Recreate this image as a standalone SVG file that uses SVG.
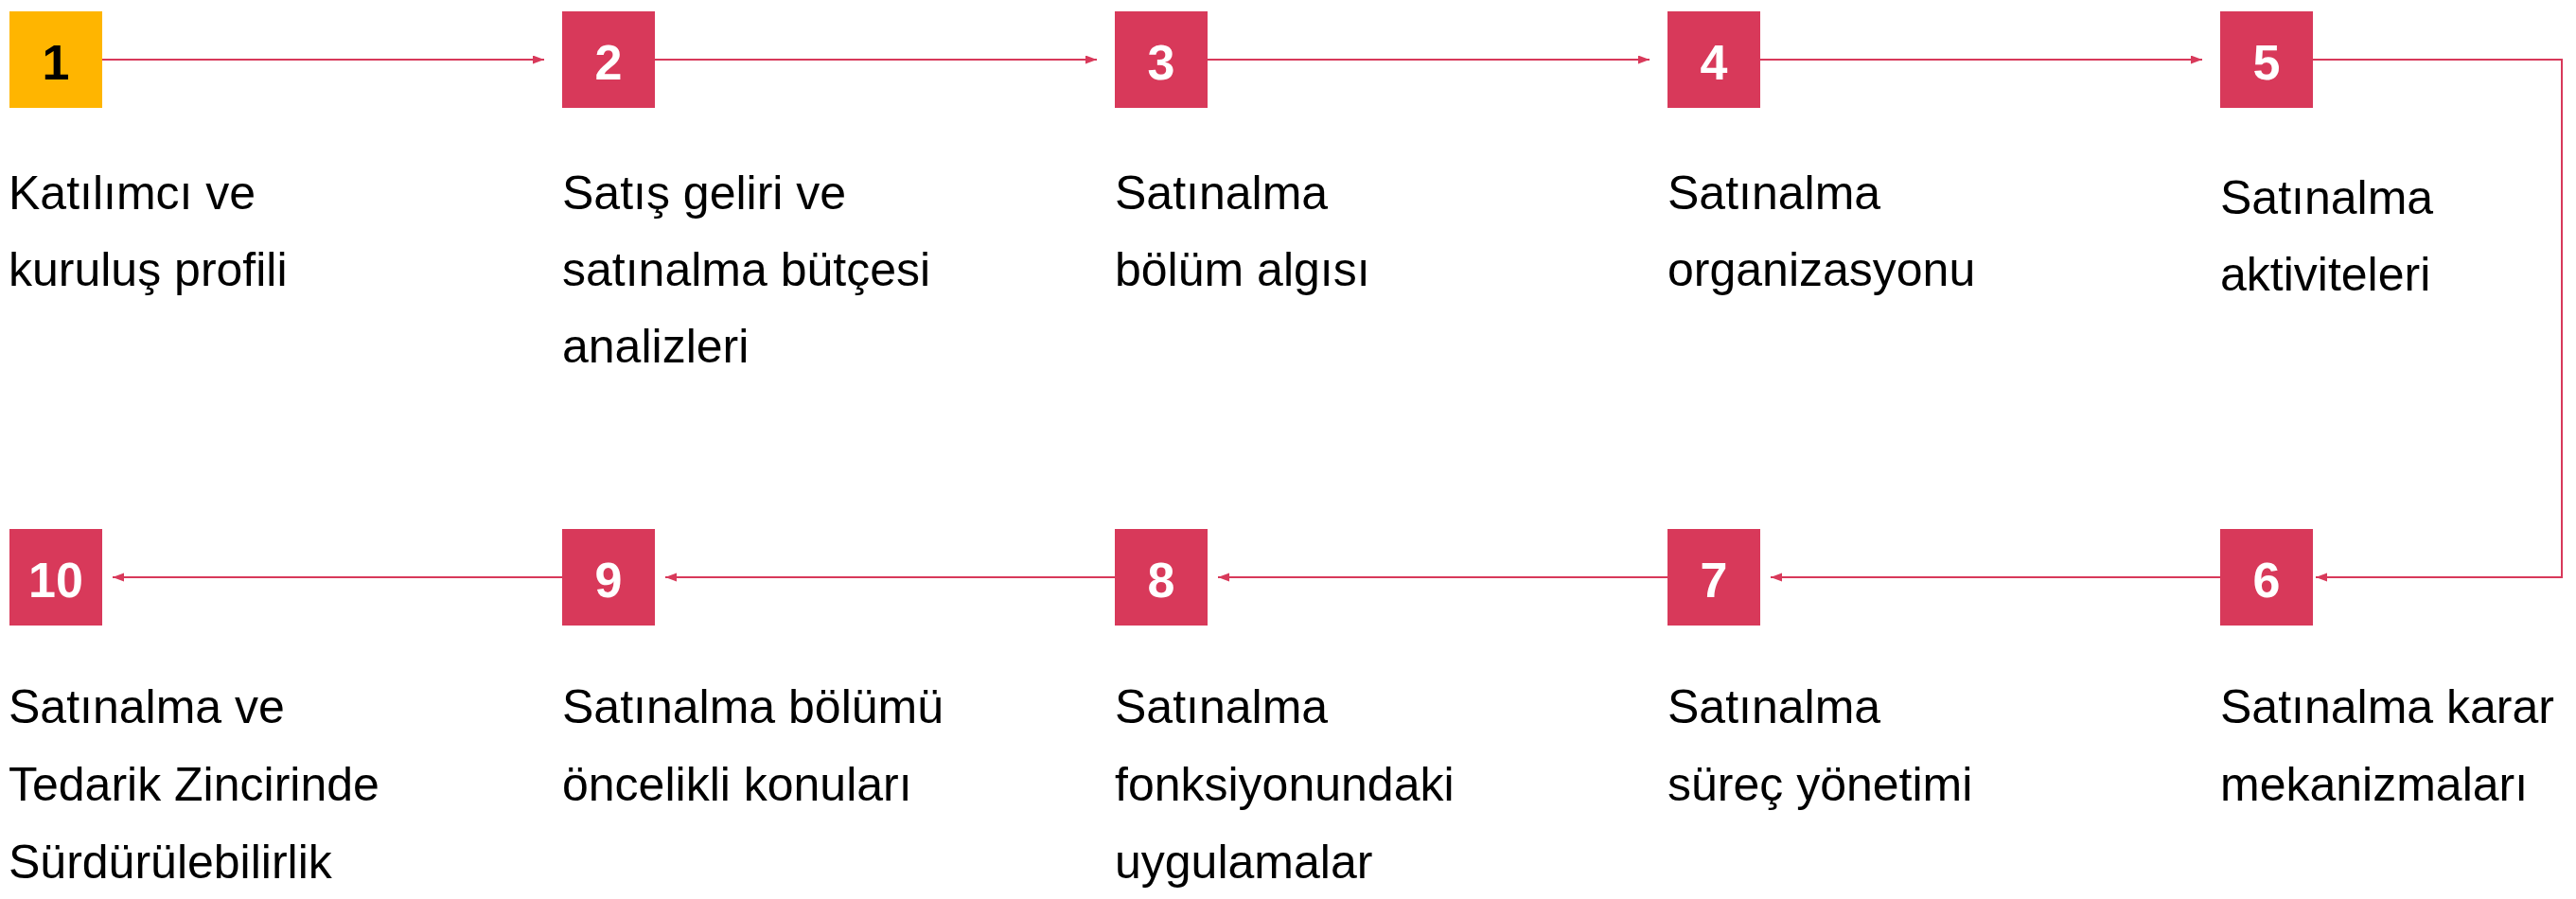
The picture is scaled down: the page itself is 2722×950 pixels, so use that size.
<svg xmlns="http://www.w3.org/2000/svg" width="2722" height="950" viewBox="0 0 2722 950">
<style>
.box{fill:#D8395A}
.box1{fill:#FFB500}
.num{font-family:"Liberation Sans",Arial,sans-serif;font-weight:bold;font-size:52px;fill:#FFFFFF;text-anchor:middle}
.num1{fill:#000000}
.lbl{font-family:"Liberation Sans",Arial,sans-serif;font-size:50px;fill:#000000}
.con{fill:none;stroke:#D8395A;stroke-width:2}
</style>
<defs>
<marker id="ah" markerUnits="userSpaceOnUse" markerWidth="13" markerHeight="10" refX="12" refY="4.5" orient="auto">
<path d="M0,0 L12,4.5 L0,9 z" fill="#D8395A"/>
</marker>
</defs>
<rect width="2722" height="950" fill="#FFFFFF"/>
<g id="connectors">
<path class="con" d="M108,63 H575" marker-end="url(#ah)"/>
<path class="con" d="M692,63 H1159" marker-end="url(#ah)"/>
<path class="con" d="M1276,63 H1743" marker-end="url(#ah)"/>
<path class="con" d="M1860,63 H2327" marker-end="url(#ah)"/>
<path class="con" d="M2444,63 H2707 V610 H2447" marker-end="url(#ah)"/>
<path class="con" d="M2346,610 H1871" marker-end="url(#ah)"/>
<path class="con" d="M1762,610 H1287" marker-end="url(#ah)"/>
<path class="con" d="M1178,610 H703" marker-end="url(#ah)"/>
<path class="con" d="M594,610 H119" marker-end="url(#ah)"/>
</g>
<g id="node1">
<rect class="box1" x="10" y="12" width="98" height="102"/>
<text class="num num1" x="59" y="84">1</text>
<text class="lbl" x="9" y="221">Katılımcı ve</text>
<text class="lbl" x="9" y="302">kuruluş profili</text>
</g>
<g id="node2">
<rect class="box" x="594" y="12" width="98" height="102"/>
<text class="num" x="643" y="84">2</text>
<text class="lbl" x="594" y="221">Satış geliri ve</text>
<text class="lbl" x="594" y="302">satınalma bütçesi</text>
<text class="lbl" x="594" y="383">analizleri</text>
</g>
<g id="node3">
<rect class="box" x="1178" y="12" width="98" height="102"/>
<text class="num" x="1227" y="84">3</text>
<text class="lbl" x="1178" y="221">Satınalma</text>
<text class="lbl" x="1178" y="302">bölüm algısı</text>
</g>
<g id="node4">
<rect class="box" x="1762" y="12" width="98" height="102"/>
<text class="num" x="1811" y="84">4</text>
<text class="lbl" x="1762" y="221">Satınalma</text>
<text class="lbl" x="1762" y="302">organizasyonu</text>
</g>
<g id="node5">
<rect class="box" x="2346" y="12" width="98" height="102"/>
<text class="num" x="2395" y="84">5</text>
<text class="lbl" x="2346" y="226">Satınalma</text>
<text class="lbl" x="2346" y="307">aktiviteleri</text>
</g>
<g id="node6">
<rect class="box" x="2346" y="559" width="98" height="102"/>
<text class="num" x="2395" y="631">6</text>
<text class="lbl" x="2346" y="764">Satınalma karar</text>
<text class="lbl" x="2346" y="846">mekanizmaları</text>
</g>
<g id="node7">
<rect class="box" x="1762" y="559" width="98" height="102"/>
<text class="num" x="1811" y="631">7</text>
<text class="lbl" x="1762" y="764">Satınalma</text>
<text class="lbl" x="1762" y="846">süreç yönetimi</text>
</g>
<g id="node8">
<rect class="box" x="1178" y="559" width="98" height="102"/>
<text class="num" x="1227" y="631">8</text>
<text class="lbl" x="1178" y="764">Satınalma</text>
<text class="lbl" x="1178" y="846">fonksiyonundaki</text>
<text class="lbl" x="1178" y="928">uygulamalar</text>
</g>
<g id="node9">
<rect class="box" x="594" y="559" width="98" height="102"/>
<text class="num" x="643" y="631">9</text>
<text class="lbl" x="594" y="764">Satınalma bölümü</text>
<text class="lbl" x="594" y="846">öncelikli konuları</text>
</g>
<g id="node10">
<rect class="box" x="10" y="559" width="98" height="102"/>
<text class="num" x="59" y="631">10</text>
<text class="lbl" x="9" y="764">Satınalma ve</text>
<text class="lbl" x="9" y="846">Tedarik Zincirinde</text>
<text class="lbl" x="9" y="928">Sürdürülebilirlik</text>
</g>
</svg>
